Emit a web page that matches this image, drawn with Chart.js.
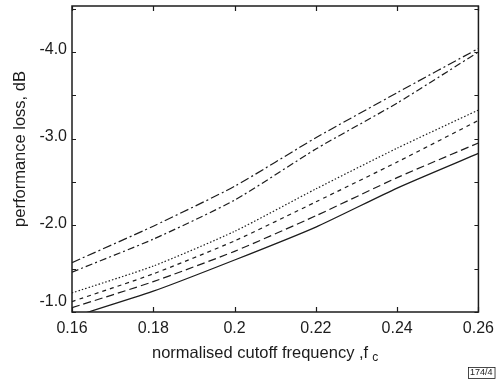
<!DOCTYPE html>
<html>
<head>
<meta charset="utf-8">
<script src="https://cdn.jsdelivr.net/npm/chart.js@4"></script>
<style>
  html, body { margin: 0; padding: 0; background: #fff; }
  #wrap { width: 501px; height: 380px; }
</style>
</head>
<body>
<div id="wrap"><canvas id="chartLoss"></canvas></div>
<script>
// values
const freq = [0.16, 0.18, 0.20, 0.22, 0.24, 0.26];
const dashDotUpper = [-1.57, -1.99, -2.45, -3.01, -3.53, -4.04];
const dashDotLower = [-1.46, -1.84, -2.29, -2.88, -3.41, -4.00];
const dotted = [-1.22, -1.53, -1.93, -2.42, -2.89, -3.33];
const shortDash = [-1.12, -1.44, -1.82, -2.27, -2.73, -3.21];
const longDash = [-1.05, -1.35, -1.70, -2.11, -2.55, -2.95];
const solid = [-0.94, -1.24, -1.60, -1.98, -2.43, -2.83];

const xTicks = [0.16, 0.18, 0.20, 0.22, 0.24, 0.26];
const yTicks = [-4.5, -4.0, -3.5, -3.0, -2.5, -2.0, -1.5, -1.0];
const yLabels = [-4.0, -3.0, -2.0, -1.0];

const FONT = "'Liberation Sans', Arial, sans-serif";
const INK = "#1c1c1c";

const pts = (arr) => arr.map((v, i) => ({ x: freq[i], y: v }));

const line = (data, dash, width) => ({
    data: pts(data),
    borderColor: INK,
    borderWidth: width || 1.2,
    borderDash: dash,
    pointRadius: 0,
    tension: 0.2,
    fill: false,
});

// frame, inward ticks, y labels, titles
const decor = {
    id: "decor",
    afterDraw(chart) {
        const { ctx, chartArea: a, scales } = chart;
        const xs = scales.x, ys = scales.y;
        ctx.save();
        ctx.strokeStyle = INK;
        ctx.lineWidth = 1.5;
        ctx.strokeRect(a.left, a.top, a.right - a.left, a.bottom - a.top);

        ctx.lineWidth = 1.2;
        ctx.beginPath();
        xTicks.forEach((v) => {
            const px = Math.round(xs.getPixelForValue(v)) + 0.5;
            ctx.moveTo(px, a.bottom); ctx.lineTo(px, a.bottom - 5);
            ctx.moveTo(px, a.top); ctx.lineTo(px, a.top + 5);
        });
        yTicks.forEach((v) => {
            const py = Math.round(ys.getPixelForValue(v)) + 0.5;
            ctx.moveTo(a.left, py); ctx.lineTo(a.left + 4, py);
            ctx.moveTo(a.right, py); ctx.lineTo(a.right - 4, py);
        });
        ctx.stroke();

        ctx.fillStyle = INK;
        ctx.font = "16px " + FONT;
        ctx.textAlign = "right";
        ctx.textBaseline = "middle";
        yLabels.forEach((v) => {
            let py = ys.getPixelForValue(v) - 2;
            if (v === -1.0) py = a.bottom - 10;
            ctx.fillText(v.toFixed(1), a.left - 5, py);
        });

        // x title with subscript
        ctx.font = "16.5px " + FONT;
        ctx.textAlign = "left";
        const t = "normalised cutoff frequency ,f";
        const tw = ctx.measureText(t).width;
        const tx = 152;
        ctx.fillText(t, tx, 353);
        ctx.font = "12px " + FONT;
        ctx.fillText("c", tx + tw + 4, 358);

        // y title
        ctx.save();
        ctx.translate(20, 149);
        ctx.rotate(-Math.PI / 2);
        ctx.font = "16.5px " + FONT;
        ctx.textAlign = "center";
        ctx.fillText("performance loss, dB", 0, 0);
        ctx.restore();

        // figure reference box
        ctx.font = "9px " + FONT;
        ctx.textAlign = "left";
        const ref = "174/4";
        const rw = ctx.measureText(ref).width;
        ctx.fillText(ref, 470, 373);
        ctx.lineWidth = 0.8;
        ctx.strokeRect(468.5, 367.5, rw + 4, 11);
        ctx.restore();
    },
};

new Chart(document.getElementById("chartLoss"), {
    type: "line",
    data: {
        datasets: [
            line(dashDotUpper, [9, 3, 2, 3]),
            line(dashDotLower, [7, 3, 2, 3]),
            line(dotted, [1.5, 2]),
            line(shortDash, [4, 4]),
            line(longDash, [8, 4]),
            line(solid, [], 1.3),
        ],
    },
    options: {
        responsive: true,
        maintainAspectRatio: false,
        animation: false,
        layout: { padding: { top: 6, right: 17, left: 0, bottom: 0 } },
        plugins: { legend: { display: false }, tooltip: { enabled: false } },
        scales: {
            x: {
                type: "linear",
                min: 0.16,
                max: 0.26,
                afterBuildTicks: (s) => { s.ticks = xTicks.map((v) => ({ value: v })); },
                afterFit: (s) => { s.height = 68; },
                grid: { display: false, drawTicks: false },
                border: { display: false },
                ticks: {
                    color: INK,
                    padding: 7,
                    font: { family: FONT, size: 16 },
                    callback: (v) => String(+v.toFixed(2)),
                },
            },
            y: {
                type: "linear",
                reverse: true,
                min: -4.53,
                max: -1.0,
                afterFit: (s) => { s.width = 72; },
                grid: { display: false, drawTicks: false },
                border: { display: false },
                ticks: { display: false },
            },
        },
    },
    plugins: [decor],
});
</script>
</body>
</html>
